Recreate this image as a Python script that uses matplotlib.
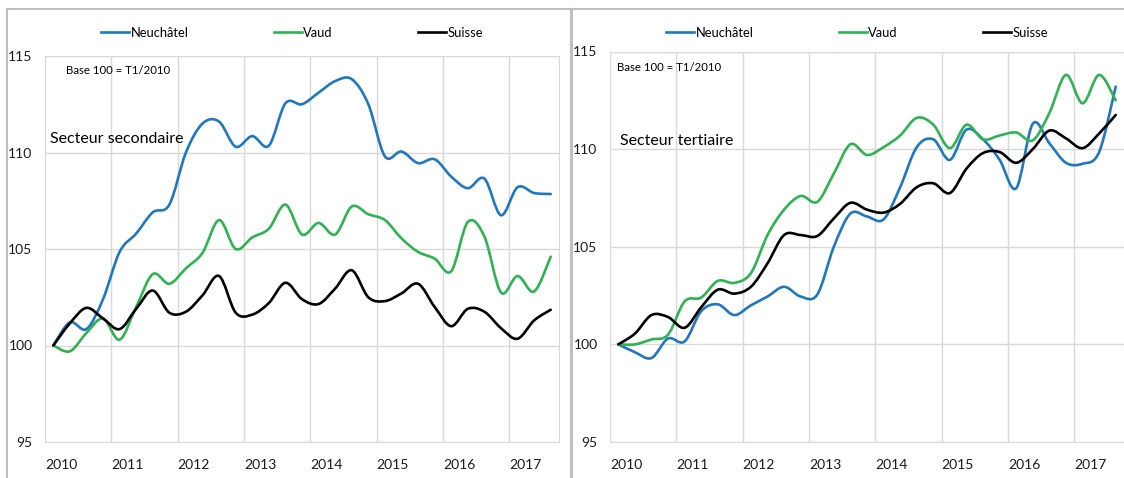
import matplotlib.pyplot as plt
from matplotlib.path import Path
from matplotlib.patches import PathPatch, Rectangle
from matplotlib.lines import Line2D
import numpy as np

plt.rcParams['font.family'] = ['Lato', 'DejaVu Sans']

# Données trimestrielles T1/2010 - T3/2017, base 100 = T1/2010
annees = ['2010', '2011', '2012', '2013', '2014', '2015', '2016', '2017']
n_trim = 31

sec_neuchatel = [100.0, 101.2, 100.85, 102.4, 104.85, 105.8, 106.9, 107.3, 110.0, 111.5, 111.6,
                 110.3, 110.85, 110.35, 112.55, 112.5, 113.1, 113.7, 113.8, 112.5, 109.8,
                 110.05, 109.45, 109.65, 108.75, 108.15, 108.65, 106.75, 108.2, 107.9, 107.85]
sec_vaud = [100.0, 99.7, 100.65, 101.4, 100.3, 102.0, 103.7, 103.2, 104.0, 104.8, 106.5,
            105.0, 105.6, 106.05, 107.3, 105.75, 106.35, 105.75, 107.2, 106.8, 106.5,
            105.55, 104.85, 104.5, 103.85, 106.4, 105.65, 102.75, 103.6, 102.8, 104.6]
sec_suisse = [100.0, 101.15, 101.95, 101.4, 100.85, 101.9, 102.85, 101.7, 101.75, 102.6, 103.6,
              101.7, 101.6, 102.2, 103.25, 102.4, 102.15, 102.95, 103.9, 102.5, 102.3,
              102.7, 103.2, 102.0, 101.0, 101.9, 101.75, 100.9, 100.35, 101.3, 101.85]

ter_neuchatel = [100.0, 99.6, 99.3, 100.3, 100.15, 101.7, 102.05, 101.5, 102.0, 102.45, 102.95,
                 102.45, 102.55, 105.0, 106.7, 106.55, 106.4, 108.05, 110.1, 110.5, 109.45,
                 111.0, 110.5, 109.45, 108.0, 111.3, 110.3, 109.3, 109.25, 109.85, 113.2]
ter_vaud = [100.0, 100.0, 100.25, 100.5, 102.2, 102.4, 103.25, 103.15, 103.65, 105.6, 106.9,
            107.6, 107.3, 108.75, 110.25, 109.7, 110.1, 110.7, 111.6, 111.25, 110.05,
            111.25, 110.5, 110.7, 110.85, 110.45, 111.85, 113.8, 112.35, 113.8, 112.5]
ter_suisse = [100.0, 100.55, 101.5, 101.4, 100.85, 101.9, 102.8, 102.6, 102.95, 104.15, 105.6,
              105.6, 105.55, 106.45, 107.25, 106.9, 106.75, 107.2, 108.05, 108.25, 107.75,
              109.0, 109.8, 109.85, 109.3, 110.0, 110.95, 110.55, 110.05, 110.8, 111.75]

series = ['Neuchâtel', 'Vaud', 'Suisse']
couleurs = ['#1f77c0', '#2fb352', '#000000']

W, H = 1124, 478
fig = plt.figure(figsize=(W / 100, H / 100), dpi=100)


def courbe_lisse(ax, y, couleur):
    # ligne lissée façon Excel (Catmull-Rom -> Bézier)
    x = np.arange(len(y), dtype=float)
    y = np.asarray(y, dtype=float)
    pts = np.column_stack([x, y])
    ext = np.vstack([pts[0], pts, pts[-1]])
    verts = [pts[0]]
    codes = [Path.MOVETO]
    for k in range(len(pts) - 1):
        p0, p1, p2, p3 = ext[k], ext[k + 1], ext[k + 2], ext[k + 3]
        c1 = p1 + (p2 - p0) / 6.0
        c2 = p2 - (p3 - p1) / 6.0
        verts += [c1, c2, p2]
        codes += [Path.CURVE4] * 3
    ax.add_patch(PathPatch(Path(verts, codes), fill=False, edgecolor=couleur,
                           lw=1.9, capstyle='round', joinstyle='round', zorder=3))


def panneau(rect, donnees, titre, txt_pos, base_pos, leg_x):
    ax = fig.add_axes(rect)
    for y, c in zip(donnees, couleurs):
        courbe_lisse(ax, y, c)
    ax.set_xlim(-0.5, n_trim - 0.5)
    ax.set_ylim(95, 115)
    ax.set_yticks([95, 100, 105, 110, 115])
    ax.set_xticks(np.arange(len(annees)) * 4 - 0.5)
    ax.set_xticklabels(annees, ha='left')
    ax.tick_params(length=0, labelsize=10, labelcolor='#1a1a1a')
    ax.tick_params(axis='y', pad=9)
    ax.tick_params(axis='x', pad=12)
    ax.grid(True, color='#d9d9d9', lw=1)
    for s in ax.spines.values():
        s.set_color('#d9d9d9')
    ax.text(txt_pos[0], txt_pos[1], titre, transform=fig.transFigure,
            fontsize=11.5, va='center', ha='left')
    ax.text(base_pos[0], base_pos[1], 'Base 100 = T1/2010', transform=fig.transFigure,
            fontsize=8.2, va='center', ha='left')
    handles = [Line2D([], [], color=c, lw=1.9) for c in couleurs]
    fig.legend(handles, series, loc='center', bbox_to_anchor=(leg_x, 1 - 33 / H),
               ncol=3, frameon=False, fontsize=9.3, handlelength=2.2,
               handletextpad=0.1, columnspacing=6.6)
    return ax


panneau([45 / W, 36 / H, 514 / W, 386 / H],
        [sec_neuchatel, sec_vaud, sec_suisse], 'Secteur secondaire',
        (50 / W, 1 - 139 / H), (66 / W, 1 - 71 / H), 292 / W)
panneau([610 / W, 36 / H, 514 / W, 390.5 / H],
        [ter_neuchatel, ter_vaud, ter_suisse], 'Secteur tertiaire',
        (620 / W, 1 - 141 / H), (617 / W, 1 - 67 / H), 857 / W)

# cadres des deux graphiques
fig.patches.append(Rectangle((7 / W, -0.01), 564 / W, 1 - 9 / H + 0.01, transform=fig.transFigure,
                             fill=False, edgecolor='#bfbfbf', lw=1.5))
fig.patches.append(Rectangle((572 / W, -0.01), 560 / W, 1 - 9 / H + 0.01, transform=fig.transFigure,
                             fill=False, edgecolor='#bfbfbf', lw=1.5))

fig.savefig('out.png', dpi=100)
